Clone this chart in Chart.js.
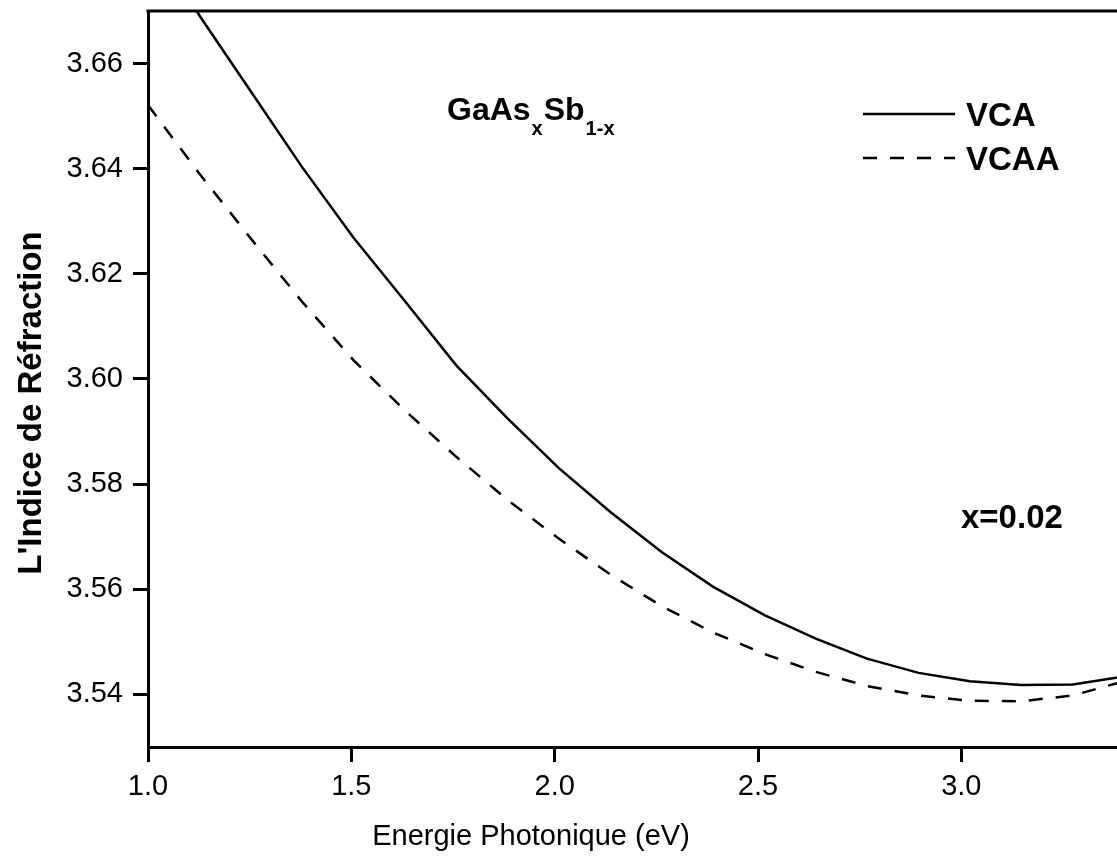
<!DOCTYPE html>
<html>
<head>
<meta charset="utf-8">
<script src="https://cdn.jsdelivr.net/npm/chart.js@4/dist/chart.umd.min.js"></script>
<style>
  html, body { margin: 0; padding: 0; background: #fff; overflow: hidden; }
  #wrap { position: absolute; left: 0; top: 0; }
</style>
</head>
<body>
<div id="wrap"><canvas id="chart" width="1124" height="864"></canvas></div>
<script>
// Energie photonique (eV)
const energy = [1.000, 1.126, 1.253, 1.379, 1.505, 1.632, 1.758, 1.884, 2.011, 2.137,
                2.263, 2.389, 2.516, 2.642, 2.768, 2.895, 3.021, 3.147, 3.274, 3.400];
// indice de réfraction
const vca  = [3.6855, 3.6692, 3.6547, 3.6403, 3.6269, 3.6148, 3.6026, 3.5925, 3.5830, 3.5747,
              3.5671, 3.5605, 3.5551, 3.5506, 3.5468, 3.5441, 3.5425, 3.5418, 3.5419, 3.5434];
const vcaa = [3.6521, 3.6391, 3.6267, 3.6147, 3.6036, 3.5940, 3.5852, 3.5770, 3.5696, 3.5628,
              3.5568, 3.5518, 3.5477, 3.5443, 3.5416, 3.5398, 3.5388, 3.5387, 3.5398, 3.5425];

const xTicks = [1.0, 1.5, 2.0, 2.5, 3.0];
const yTicks = [3.54, 3.56, 3.58, 3.60, 3.62, 3.64, 3.66];

const FONT = '"Liberation Sans", Arial, Helvetica, sans-serif';

const toPoints = (xs, ys) => xs.map((x, i) => ({ x: x, y: ys[i] }));

// textes et cadre dessinés par dessus le graphique
const decor = {
  id: 'decor',
  afterDraw(chart) {
    const c = chart.ctx;
    const a = chart.chartArea;
    c.save();
    c.strokeStyle = '#000';
    c.fillStyle = '#000';

    // bord supérieur
    c.lineWidth = 3;
    c.beginPath();
    c.moveTo(a.left - 1.5, a.top);
    c.lineTo(a.right, a.top);
    c.stroke();

    c.textBaseline = 'alphabetic';
    c.textAlign = 'left';

    // GaAs_x Sb_1-x
    let x = 447;
    c.font = 'bold 32px ' + FONT;
    c.fillText('GaAs', x, 120);
    x += c.measureText('GaAs').width + 1;
    c.font = 'bold 20px ' + FONT;
    c.fillText('x', x, 135);
    x += c.measureText('x').width + 1;
    c.font = 'bold 32px ' + FONT;
    c.fillText('Sb', x, 120);
    x += c.measureText('Sb').width + 1;
    c.font = 'bold 20px ' + FONT;
    c.fillText('1-x', x, 135);

    // légende
    const rows = [114, 158];
    chart.data.datasets.forEach((ds, i) => {
      c.lineWidth = 2.5;
      c.setLineDash(ds.borderDash || []);
      c.beginPath();
      c.moveTo(863, rows[i]);
      c.lineTo(955, rows[i]);
      c.stroke();
      c.setLineDash([]);
      c.font = 'bold 33px ' + FONT;
      c.fillText(ds.label, 966, rows[i] + 12);
    });

    c.font = 'bold 33px ' + FONT;
    c.fillText('x=0.02', 961, 528);

    // titres des axes
    c.textAlign = 'center';
    c.font = '29px ' + FONT;
    c.fillText('Energie Photonique (eV)', 531, 845);

    c.translate(41, 403);
    c.rotate(-Math.PI / 2);
    c.font = 'bold 33px ' + FONT;
    c.fillText("L'Indice de Réfraction", 0, 0);
    c.restore();
  }
};

new Chart(document.getElementById('chart'), {
  type: 'line',
  data: {
    datasets: [
      {
        label: 'VCA',
        data: toPoints(energy, vca),
        borderColor: '#000',
        borderWidth: 2.5,
        pointRadius: 0,
        tension: 0,
        clip: 0
      },
      {
        label: 'VCAA',
        data: toPoints(energy, vcaa),
        borderColor: '#000',
        borderWidth: 2.5,
        borderDash: [14, 13],
        pointRadius: 0,
        tension: 0,
        clip: 0
      }
    ]
  },
  options: {
    responsive: false,
    animation: false,
    devicePixelRatio: 1,
    layout: { padding: { top: 11, left: 0, right: 0, bottom: 0 } },
    plugins: {
      legend: { display: false },
      tooltip: { enabled: false }
    },
    scales: {
      x: {
        type: 'linear',
        min: 1.0,
        max: 3.4,
        afterBuildTicks: s => { s.ticks = xTicks.map(v => ({ value: v })); },
        afterFit: s => { s.height = 117; s.paddingLeft = 0; s.paddingRight = 0; },
        border: { display: true, color: '#000', width: 3 },
        grid: { drawOnChartArea: false, drawTicks: true, tickLength: 15, tickWidth: 3, tickColor: '#000' },
        ticks: {
          color: '#000',
          font: { family: FONT, size: 29 },
          padding: 8,
          maxRotation: 0,
          callback: v => v.toFixed(1)
        }
      },
      y: {
        type: 'linear',
        min: 3.53,
        max: 3.67,
        afterBuildTicks: s => { s.ticks = yTicks.map(v => ({ value: v })); },
        afterFit: s => { s.width = 148; s.paddingTop = 0; s.paddingBottom = 0; },
        border: { display: true, color: '#000', width: 3 },
        grid: { drawOnChartArea: false, drawTicks: true, tickLength: 15, tickWidth: 3, tickColor: '#000' },
        ticks: {
          color: '#000',
          font: { family: FONT, size: 29 },
          padding: 10,
          callback: v => v.toFixed(2)
        }
      }
    }
  },
  plugins: [decor]
});
</script>
</body>
</html>
